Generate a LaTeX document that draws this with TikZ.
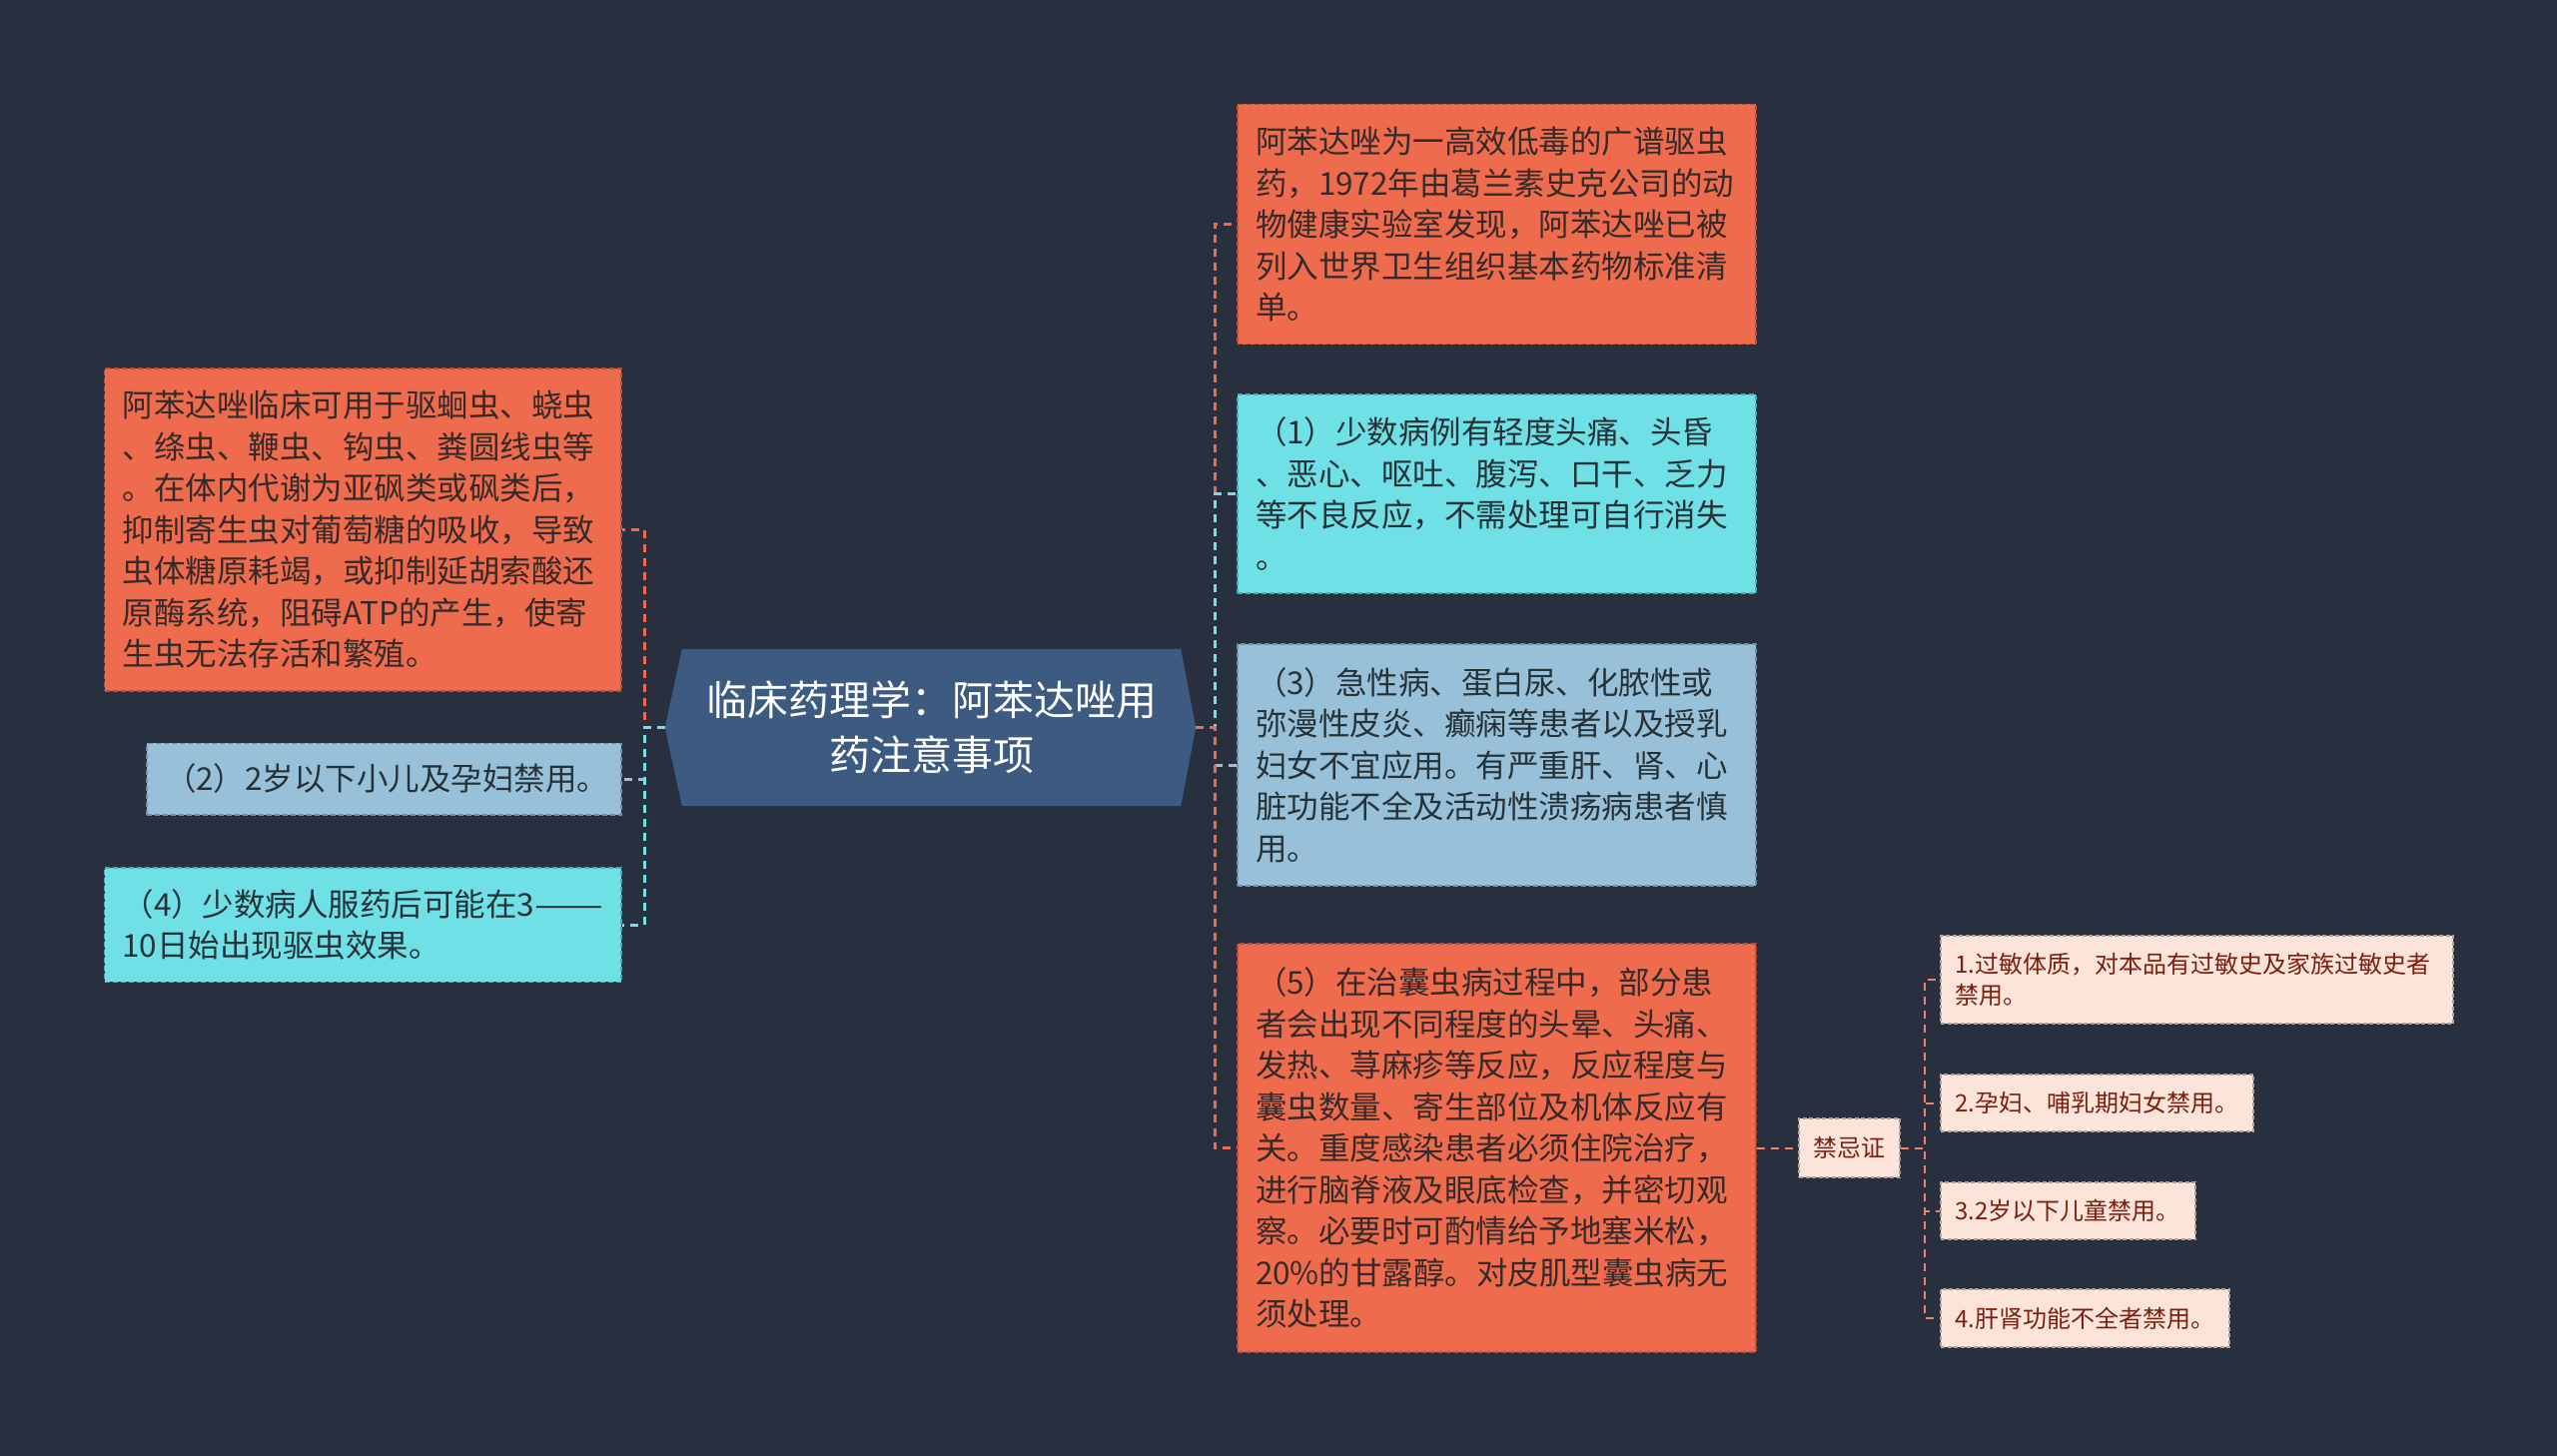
\documentclass[tikz,border=0pt]{standalone}
\usepackage{fontspec}
\newfontfamily\cjk{Noto Sans CJK SC}
\definecolor{bgc}{HTML}{283040}
\definecolor{corange}{HTML}{EE6C4D}
\definecolor{ccyan}{HTML}{6EE0E6}
\definecolor{cblue}{HTML}{98C1D9}
\definecolor{cnavy}{HTML}{3D5A80}
\definecolor{cpink}{HTML}{FDE4DA}
\definecolor{txtdark}{HTML}{352A2A}
\definecolor{txtblue}{HTML}{263238}
\definecolor{txtsub}{HTML}{7A1F0E}
\tikzset{
  box/.style={rectangle, line width=1.5pt, dash pattern=on 5pt off 3pt, inner xsep=18pt, inner ysep=0pt, align=left,
    font=\cjk\fontsize{31.5}{41.5}\selectfont},
  obox/.style={box, fill=corange, draw=corange!75!black, text=txtdark},
  cbox/.style={box, fill=ccyan, draw=ccyan!75!black, text=txtblue},
  bbox/.style={box, fill=cblue, draw=cblue!75!black, text=txtblue},
  pbox/.style={rectangle, line width=1.2pt, dash pattern=on 4pt off 2.5pt, fill=cpink, draw=cpink!70!black, text=txtsub,
    inner xsep=14pt, inner ysep=0pt, align=left, font=\cjk\fontsize{24}{31}\selectfont},
  roottext/.style={text=white, align=center, inner sep=0pt, font=\cjk\fontsize{41}{55}\selectfont},
  conn/.style={line width=3pt, dash pattern=on 8pt off 6pt},
  subconn/.style={line width=2pt, dash pattern=on 8pt off 6pt, draw=corange!85!white},
}
\begin{document}
\begin{tikzpicture}[x=1pt,y=-1pt]
\fill[bgc] (0,0) rectangle (2560,1458);
\useasboundingbox (0,0) rectangle (2560,1458);

% root
\path node (root) [rectangle, minimum width=499pt, minimum height=157pt, inner sep=0pt] at (932.5,728.5) {};
\coordinate (rootL) at ([xshift=-17pt]root.west);
\coordinate (rootR) at ([xshift=15pt]root.east);
\fill[cnavy] (root.north west) -- (root.north east) -- (rootR) -- (root.south east) -- (root.south west) -- (rootL) -- cycle;
\node[roottext] (rootlabel) at (root) {临床药理学：阿苯达唑用\\药注意事项};

% right boxes
\node[obox, minimum width=519pt, minimum height=240pt, text width=483pt] (A) at (1498.5,224.5)
 {阿苯达唑为一高效低毒的广谱驱虫\\药，1972年由葛兰素史克公司的动\\物健康实验室发现，阿苯达唑已被\\列入世界卫生组织基本药物标准清\\单。};
\node[cbox, minimum width=519pt, minimum height=199pt, text width=483pt] (B) at (1498.5,494.5)
 {（1）少数病例有轻度头痛、头昏\\、恶心、呕吐、腹泻、口干、乏力\\等不良反应，不需处理可自行消失\\。};
\node[bbox, minimum width=519pt, minimum height=242pt, text width=483pt] (C) at (1498.5,766)
 {（3）急性病、蛋白尿、化脓性或\\弥漫性皮炎、癫痫等患者以及授乳\\妇女不宜应用。有严重肝、肾、心\\脏功能不全及活动性溃疡病患者慎\\用。};
\node[obox, minimum width=519pt, minimum height=409pt, text width=483pt] (D) at (1498.5,1149.5)
 {（5）在治囊虫病过程中，部分患\\者会出现不同程度的头晕、头痛、\\发热、荨麻疹等反应，反应程度与\\囊虫数量、寄生部位及机体反应有\\关。重度感染患者必须住院治疗，\\进行脑脊液及眼底检查，并密切观\\察。必要时可酌情给予地塞米松，\\20\%的甘露醇。对皮肌型囊虫病无\\须处理。};

% left boxes
\node[obox, minimum width=517.5pt, minimum height=323pt, text width=481.5pt] (L1) at (363.25,530.5)
 {阿苯达唑临床可用于驱蛔虫、蛲虫\\、绦虫、鞭虫、钩虫、粪圆线虫等\\。在体内代谢为亚砜类或砜类后，\\抑制寄生虫对葡萄糖的吸收，导致\\虫体糖原耗竭，或抑制延胡索酸还\\原酶系统，阻碍ATP的产生，使寄\\生虫无法存活和繁殖。};
\node[bbox, minimum width=475pt, minimum height=71.5pt, text width=439pt] (L2) at (384.5,780)
 {（2）2岁以下小儿及孕妇禁用。};
\node[cbox, minimum width=517.5pt, minimum height=114.5pt, text width=481.5pt] (L3) at (363.25,926)
 {（4）少数病人服药后可能在3\scalebox{1.3}[1]{——}\\10日始出现驱虫效果。};

% contraindications
\node[pbox, minimum width=101pt, minimum height=59pt, inner xsep=0pt, align=center] (J) at (1851.5,1149.5) {禁忌证};
\node[pbox, minimum width=513pt, minimum height=88pt, text width=485pt] (S1) at (2199.5,981)
 {1.过敏体质，对本品有过敏史及家族过敏史者\\禁用。};
\node[pbox, minimum width=313pt, minimum height=57pt, text width=285pt] (S2) at (2099.5,1104.5)
 {2.孕妇、哺乳期妇女禁用。};
\node[pbox, minimum width=255pt, minimum height=57pt, text width=227pt] (S3) at (2070.5,1212.5)
 {3.2岁以下儿童禁用。};
\node[pbox, minimum width=289pt, minimum height=58pt, text width=261pt] (S4) at (2087.5,1320)
 {4.肝肾功能不全者禁用。};

% junctions
\coordinate (lj) at (645,728.5);
\coordinate (rj) at (1216,728.5);
\coordinate (sj) at (1927,1149.5);

% left connectors
\draw[conn, corange] (rootL) -- (lj) |- (L1.east);
\draw[conn, cblue] (rootL) -- (lj) |- (L2.east);
\draw[conn, ccyan] (rootL) -- (lj) |- (L3.east);

% right connectors
\draw[conn, corange] (rootR) -- (rj) |- (A.west);
\draw[conn, ccyan] (rootR) -- (rj) |- (B.west);
\draw[conn, cblue] (rootR) -- (rj) |- (C.west);
\draw[conn, corange] (rootR) -- (rj) |- (D.west);

% sub connectors
\draw[subconn] (D.east) -- (J.west);
\draw[subconn] (J.east) -- (sj) |- (S1.west);
\draw[subconn] (J.east) -- (sj) |- (S2.west);
\draw[subconn] (J.east) -- (sj) |- (S3.west);
\draw[subconn] (J.east) -- (sj) |- (S4.west);
\end{tikzpicture}
\end{document}
